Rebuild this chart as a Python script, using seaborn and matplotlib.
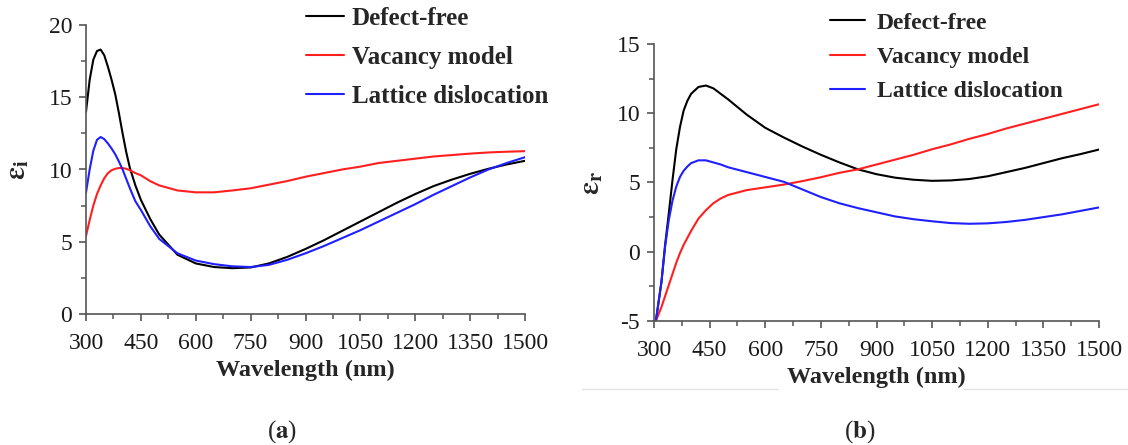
"""
Dielectric function of the three models, imaginary (a) and real (b) parts.
"""

import pandas as pd
import matplotlib.pyplot as plt
from matplotlib.lines import Line2D
from matplotlib.ticker import MultipleLocator
import seaborn as sns

sns.set_theme(style="ticks")
plt.rcParams.update({
    "font.family": ["Liberation Serif", "DejaVu Serif"],
    "mathtext.fontset": "stix",
    "axes.unicode_minus": False,
    "axes.spines.top": False,
    "axes.spines.right": False,
})

names = ["Defect-free", "Vacancy model", "Lattice dislocation"]
colors = ["#000000", "#ff1f1f", "#1f1fff"]

# --- (a) imaginary part ---
wl_a = [300, 310, 320, 330, 340, 350, 360, 370, 380, 390, 400, 410, 420, 435,
        450, 475, 500, 550, 600, 650, 700, 750, 800, 850, 900, 950, 1000,
        1050, 1100, 1150, 1200, 1250, 1300, 1350, 1400, 1450, 1500]
eps_i_free = [14.0, 16.2, 17.6, 18.2, 18.3, 17.9, 17.1, 16.2, 15.2, 13.9, 12.5,
              11.2, 10.1, 8.9, 7.9, 6.6, 5.5, 4.1, 3.5, 3.25, 3.17, 3.22, 3.5,
              3.95, 4.5, 5.1, 5.75, 6.4, 7.05, 7.7, 8.3, 8.85, 9.3, 9.7, 10.05,
              10.35, 10.6]
eps_i_vac = [5.4, 6.5, 7.5, 8.3, 8.9, 9.4, 9.75, 9.95, 10.05, 10.1, 10.1,
             10.05, 9.95, 9.75, 9.6, 9.2, 8.9, 8.55, 8.42, 8.42, 8.55, 8.7,
             8.95, 9.2, 9.5, 9.75, 10.0, 10.2, 10.45, 10.6, 10.75, 10.9, 11.0,
             11.1, 11.18, 11.23, 11.27]
eps_i_disl = [8.4, 10.0, 11.3, 12.05, 12.25, 12.1, 11.8, 11.45, 11.05, 10.55,
              10.0, 9.35, 8.7, 7.8, 7.2, 6.1, 5.2, 4.2, 3.7, 3.45, 3.3, 3.25,
              3.4, 3.75, 4.2, 4.7, 5.25, 5.8, 6.4, 7.0, 7.6, 8.25, 8.85, 9.45,
              10.0, 10.45, 10.85]

# --- (b) real part ---
wl_b = [305, 320, 330, 340, 350, 360, 370, 380, 390, 400, 420, 440, 460, 480,
        500, 550, 600, 650, 700, 750, 800, 850, 900, 950, 1000, 1050, 1100,
        1150, 1200, 1250, 1300, 1350, 1400, 1450, 1500]
eps_r_free = [-5.0, -2.2, 0.5, 2.8, 5.2, 7.4, 9.0, 10.2, 10.9, 11.4, 11.9,
              12.0, 11.8, 11.4, 11.0, 9.9, 8.95, 8.25, 7.6, 7.0, 6.45, 5.95,
              5.6, 5.35, 5.2, 5.12, 5.15, 5.25, 5.45, 5.75, 6.05, 6.4, 6.75,
              7.05, 7.38]
eps_r_vac = [-5.0, -4.0, -3.2, -2.4, -1.6, -0.8, -0.1, 0.5, 1.0, 1.5, 2.4,
             3.0, 3.5, 3.85, 4.1, 4.45, 4.65, 4.85, 5.1, 5.38, 5.7, 5.95, 6.3,
             6.65, 7.0, 7.4, 7.75, 8.15, 8.5, 8.9, 9.25, 9.6, 9.95, 10.3, 10.65]
eps_r_disl = [-5.0, -2.2, 0.4, 2.3, 3.7, 4.7, 5.4, 5.85, 6.15, 6.4, 6.6, 6.6,
              6.45, 6.3, 6.1, 5.75, 5.4, 5.05, 4.5, 3.95, 3.5, 3.15, 2.85,
              2.55, 2.35, 2.2, 2.07, 2.02, 2.05, 2.15, 2.3, 2.5, 2.7, 2.95, 3.2]


def long_frame(wl, series):
    parts = [pd.DataFrame({"wl": wl, "eps": s, "model": n})
             for n, s in zip(names, series)]
    return pd.concat(parts, ignore_index=True)


df_a = long_frame(wl_a, [eps_i_free, eps_i_vac, eps_i_disl])
df_b = long_frame(wl_b, [eps_r_free, eps_r_vac, eps_r_disl])
palette = dict(zip(names, colors))

fig = plt.figure(figsize=(11.28, 4.45), dpi=100)
ax_a = fig.add_axes([86 / 1128, 1 - 314 / 445, 439 / 1128, 289 / 445])
ax_b = fig.add_axes([654 / 1128, 1 - 321 / 445, 445 / 1128, 277 / 445])

panels = [
    (ax_a, df_a, (0, 20), r"$\mathbf{\varepsilon}_\mathbf{i}$", -0.125),
    (ax_b, df_b, (-5, 15), r"$\mathbf{\varepsilon}_\mathbf{r}$", -0.11),
]

for ax, df, ylim, ylab, labx in panels:
    sns.lineplot(data=df, x="wl", y="eps", hue="model", hue_order=names,
                 palette=palette, estimator=None, sort=False, linewidth=1.5,
                 legend=False, ax=ax)
    ax.set_xlim(300, 1500)
    ax.set_ylim(*ylim)
    ax.xaxis.set_major_locator(MultipleLocator(150))
    ax.xaxis.set_minor_locator(MultipleLocator(75))
    ax.yaxis.set_major_locator(MultipleLocator(5))
    ax.yaxis.set_minor_locator(MultipleLocator(2.5))
    for side in ["left", "bottom"]:
        ax.spines[side].set_color("#555555")
        ax.spines[side].set_linewidth(1.2)
    ax.tick_params(which="both", bottom=True, left=True, top=False,
                   right=False, direction="out", color="#555555")
    ax.tick_params(which="major", length=5, width=1.2, labelsize=17,
                   labelcolor="#1a1a1a")
    ax.tick_params(axis="x", which="major", pad=9)
    ax.tick_params(axis="y", which="major", pad=5)
    ax.tick_params(which="minor", length=3.5, width=1.1)
    ax.set_xlabel("Wavelength (nm)", fontsize=17.5, fontweight="bold",
                  labelpad=4)
    ax.set_ylabel(ylab, fontsize=21, rotation=90)
    ax.yaxis.set_label_coords(labx, 0.5)
    ax.set_facecolor("white")

# legends sit above the plot area, without frame
ax_a.legend(ax_a.get_lines()[:3], names, loc="upper left",
            bbox_to_anchor=(306 / 1128, 1 - 7 / 445),
            bbox_transform=fig.transFigure, frameon=False, borderpad=0,
            borderaxespad=0, handlelength=1.5, handletextpad=0.33,
            labelspacing=0.64, prop={"weight": "bold", "size": 18})
ax_b.legend(ax_b.get_lines()[:3], names, loc="upper left",
            bbox_to_anchor=(830 / 1128, 1 - 12 / 445),
            bbox_transform=fig.transFigure, frameon=False, borderpad=0,
            borderaxespad=0, handlelength=1.5, handletextpad=0.47,
            labelspacing=0.54, prop={"weight": "bold", "size": 17})

# faint separator traces below panel (b)
for x0, x1 in [(582, 778), (964, 1128)]:
    fig.add_artist(Line2D([x0 / 1128, x1 / 1128], [1 - 389 / 445] * 2,
                          color="#e3e3e3", linewidth=1))

fig.text(0.25, 1 - 432 / 445, r"($\mathbf{a}$)", ha="center", va="center",
         fontsize=18)
fig.text(0.762, 1 - 432 / 445, r"($\mathbf{b}$)", ha="center", va="center",
         fontsize=18)

fig.savefig("out.png", dpi=100, facecolor="white")
